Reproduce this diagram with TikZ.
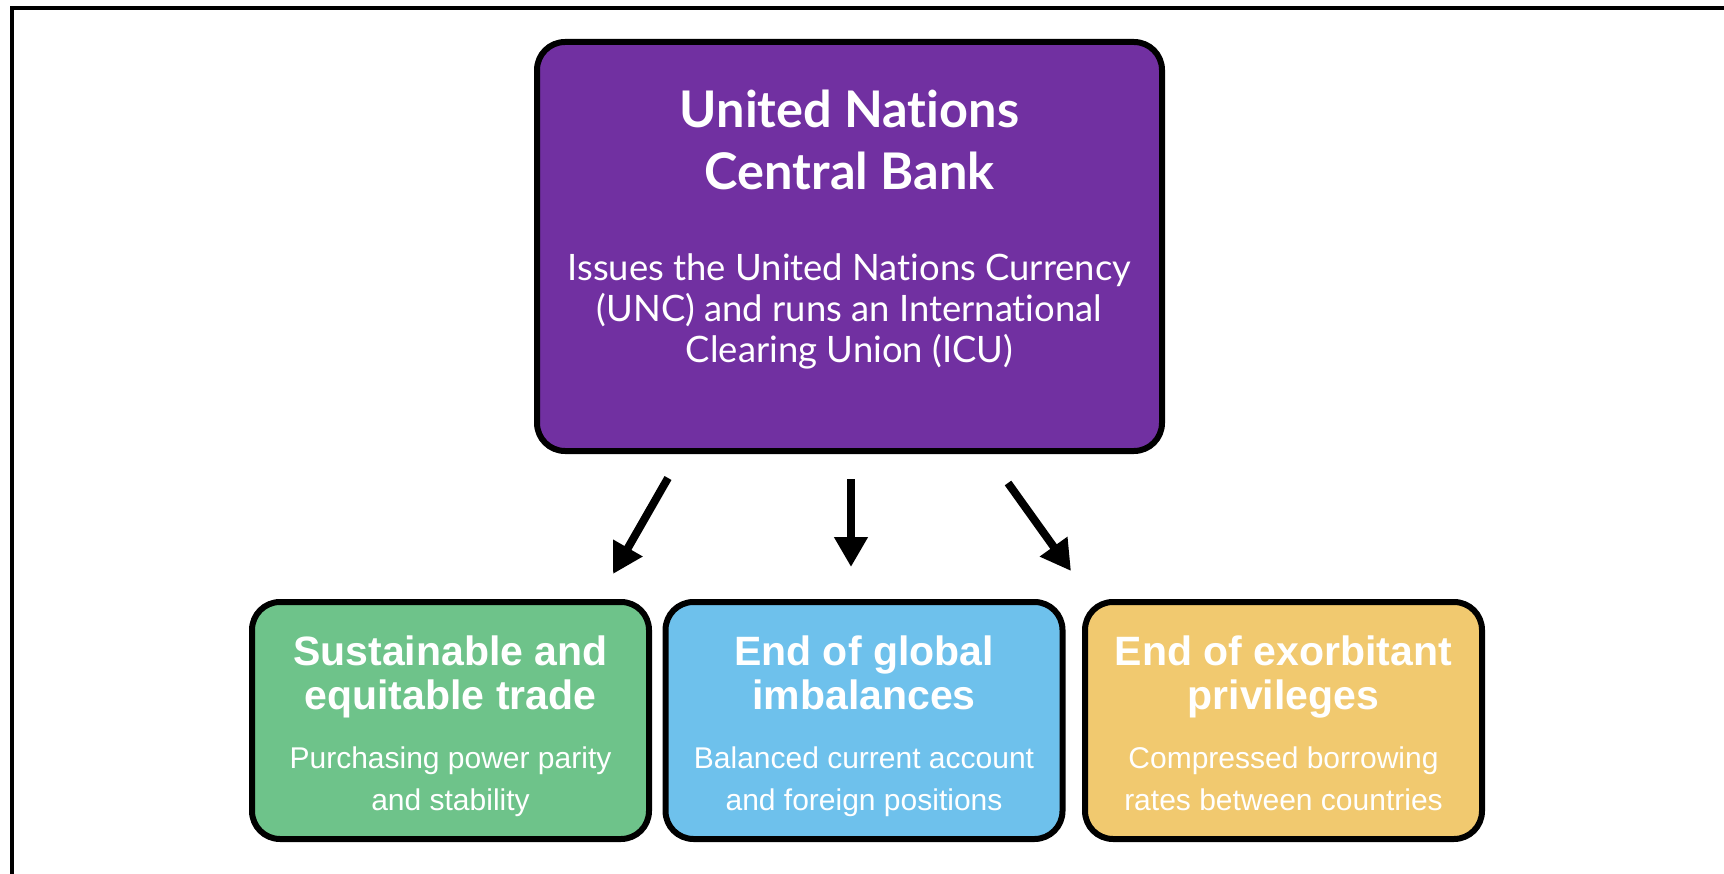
\documentclass[tikz,border=0pt]{standalone}
\usepackage{fontspec}
\newfontfamily\latof[Ligatures=NoCommon]{Lato}
\newfontfamily\arialf{Liberation Sans}
\usetikzlibrary{arrows.meta}
\definecolor{ubpurple}{RGB}{113,48,161}
\definecolor{ubgreen}{RGB}{110,195,138}
\definecolor{ubblue}{RGB}{110,193,236}
\definecolor{ubyellow}{RGB}{241,201,111}
\tikzset{
  box/.style={draw=black, line width=6pt, rounded corners=28pt, inner sep=0pt},
  topbox/.style={box, fill=ubpurple, minimum width=625pt, minimum height=409pt},
  lowbox/.style={box, minimum width=397pt, minimum height=237pt},
  toptitle/.style={anchor=base, text=white, inner sep=0pt, font=\latof\bfseries\fontsize{50.5}{54}\selectfont},
  topsub/.style={anchor=base, text=white, inner sep=0pt, font=\latof\fontsize{36.4}{40}\selectfont},
  lowtitle/.style={anchor=base, text=white, inner sep=0pt, font=\arialf\bfseries\fontsize{41}{46}\selectfont},
  lowsub/.style={anchor=base, text=white, inner sep=0pt, font=\arialf\fontsize{30}{34}\selectfont},
  arr/.style={line width=8pt, -{Triangle[width=32pt,length=30pt]}}
}
\begin{document}
\begin{tikzpicture}[x=1pt,y=-1pt]
\useasboundingbox (0,0) rectangle (1724,874);
\fill[white] (0,0) rectangle (1724,874);
\draw[line width=4pt] (12,880) -- (12,8) -- (1730,8);

\node[topbox] (bank) at (849.5,246.5) {};
\node[toptitle] (t1) at (849.5,128) {United Nations};
\node[toptitle] (t2) at (849.5,190) {Central Bank};
\node[topsub] (s1) at (849.5,281) {Issues the United Nations Currency};
\node[topsub] (s2) at (849.5,322) {(UNC) and runs an International};
\node[topsub] (s3) at (849.5,363) {Clearing Union (ICU)};

\node[lowbox, fill=ubgreen] (trade) at (450.5,720.5) {};
\node[lowtitle] (g1) at (450.5,665) {Sustainable and};
\node[lowtitle] (g2) at (450.5,709) {equitable trade};
\node[lowsub] (g3) at (450.5,768) {Purchasing power parity};
\node[lowsub] (g4) at (450.5,810) {and stability};

\node[lowbox, fill=ubblue] (imbal) at (864,720.5) {};
\node[lowtitle] (b1) at (864,665) {End of global};
\node[lowtitle] (b2) at (864,709) {imbalances};
\node[lowsub] (b3) at (864,768) {Balanced current account};
\node[lowsub] (b4) at (864,810) {and foreign positions};

\node[lowbox, fill=ubyellow] (priv) at (1283.5,720.5) {};
\node[lowtitle] (y1) at (1283.5,665) {End of exorbitant};
\node[lowtitle] (y2) at (1283.5,709) {privileges};
\node[lowsub] (y3) at (1283.5,768) {Compressed borrowing};
\node[lowsub] (y4) at (1283.5,810) {rates between countries};

\coordinate (a1s) at (668,478);
\coordinate (a1e) at (613,574);
\coordinate (a2s) at (851,479);
\coordinate (a2e) at (851,567);
\coordinate (a3s) at (1008,483);
\coordinate (a3e) at (1071,571);
\draw[arr] (a1s) -- (a1e);
\draw[arr] (a2s) -- (a2e);
\draw[arr] (a3s) -- (a3e);
\end{tikzpicture}
\end{document}
